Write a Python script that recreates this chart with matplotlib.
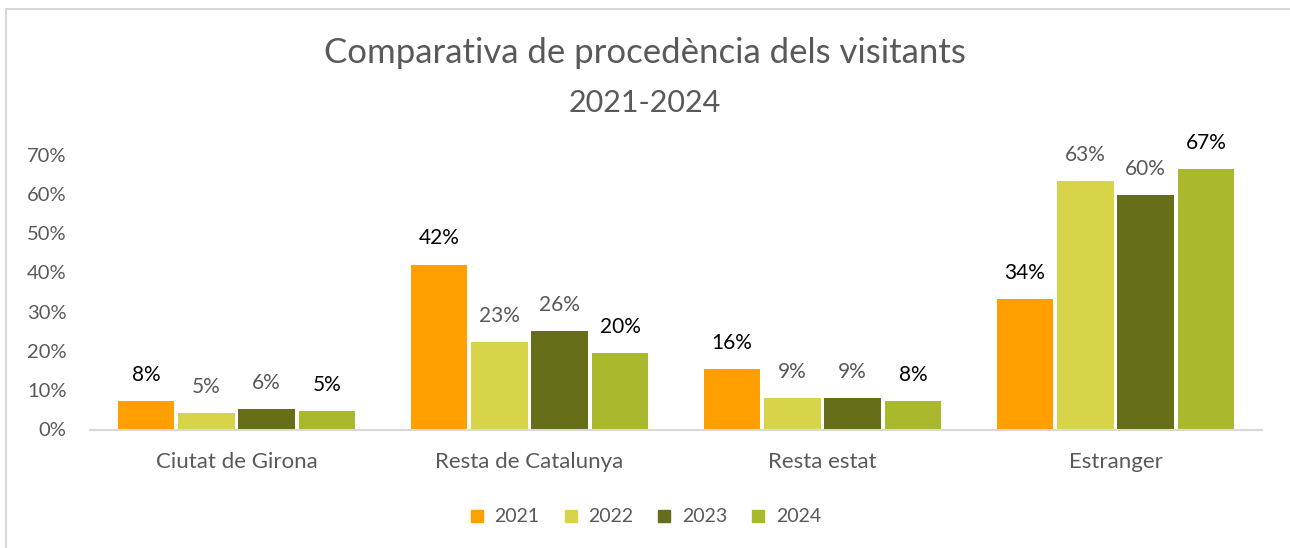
import matplotlib
matplotlib.use("Agg")
import matplotlib.pyplot as plt
import numpy as np
from matplotlib.lines import Line2D

plt.rcParams['font.family'] = ['Lato', 'DejaVu Sans']

# dades llegides del gràfic
categories = ["Ciutat de Girona", "Resta de Catalunya", "Resta estat", "Estranger"]
years = ["2021", "2022", "2023", "2024"]
values_2021 = [7.2, 42.0, 15.4, 33.2]
values_2022 = [4.2, 22.3, 7.9, 63.2]
values_2023 = [5.1, 25.1, 7.9, 59.7]
values_2024 = [4.6, 19.5, 7.25, 66.3]
labels_2021 = ["8%", "42%", "16%", "34%"]
labels_2022 = ["5%", "23%", "9%", "63%"]
labels_2023 = ["6%", "26%", "9%", "60%"]
labels_2024 = ["5%", "20%", "8%", "67%"]
yticks = [0, 10, 20, 30, 40, 50, 60, 70]

colors = ["#FF9F00", "#D8D44A", "#666E1A", "#A9B82C"]
label_colors = ["#000000", "#595959", "#595959", "#000000"]
grey = "#595959"

series = [values_2021, values_2022, values_2023, values_2024]
series_labels = [labels_2021, labels_2022, labels_2023, labels_2024]

W, H = 1290, 548
fig = plt.figure(figsize=(W / 100, H / 100), dpi=100)
ax = fig.add_axes([90 / W, (H - 429.5) / H, 1172 / W, 275 / H])

x = np.arange(len(categories))
step = 0.206
width = 0.193
for i, vals in enumerate(series):
    pos = x + (i - 1.5) * step
    ax.bar(pos, vals, width=width, color=colors[i], zorder=2)
    for px, v, lab in zip(pos, vals, series_labels[i]):
        ax.annotate(lab, (px, v), xytext=(0, 19), textcoords='offset points',
                    ha='center', va='center', fontsize=15, color=label_colors[i])

ax.set_xlim(-0.5, len(categories) - 0.5)
ax.set_ylim(0, 70)
ax.set_yticks(yticks)
ax.set_yticklabels([f"{t}%" for t in yticks])
ax.set_xticks(x)
ax.set_xticklabels(categories)
ax.tick_params(axis='y', length=0, pad=17, labelsize=14.5, labelcolor=grey)
ax.tick_params(axis='x', length=0, pad=16, labelsize=16, labelcolor=grey)
for s in ['left', 'right', 'top']:
    ax.spines[s].set_visible(False)
ax.spines['bottom'].set_color("#D9D9D9")
ax.spines['bottom'].set_linewidth(1.5)

# títol
fig.text(0.5, 1 - 53 / H, "Comparativa de procedència dels visitants",
         ha='center', va='center', fontsize=25, color=grey)
fig.text(0.5, 1 - 103 / H, "2021-2024", ha='center', va='center',
         fontsize=22, color=grey)

# llegenda
handles = [Line2D([], [], marker='s', linestyle='', markersize=8,
                  markerfacecolor=c, markeredgecolor=c) for c in colors]
fig.legend(handles, years, loc='center', bbox_to_anchor=(0.5, 1 - 517 / H),
           ncol=4, frameon=False, fontsize=14, labelcolor=grey,
           handlelength=0.8, handletextpad=0.5, columnspacing=1.2)

# vora del gràfic
fig.add_artist(Line2D([6 / W, 6 / W], [0, 1 - 9 / H], transform=fig.transFigure,
                      color="#D9D9D9", linewidth=1.5))
fig.add_artist(Line2D([6 / W, 1], [1 - 9 / H, 1 - 9 / H], transform=fig.transFigure,
                      color="#D9D9D9", linewidth=1.5))

fig.savefig("out.png", dpi=100)
